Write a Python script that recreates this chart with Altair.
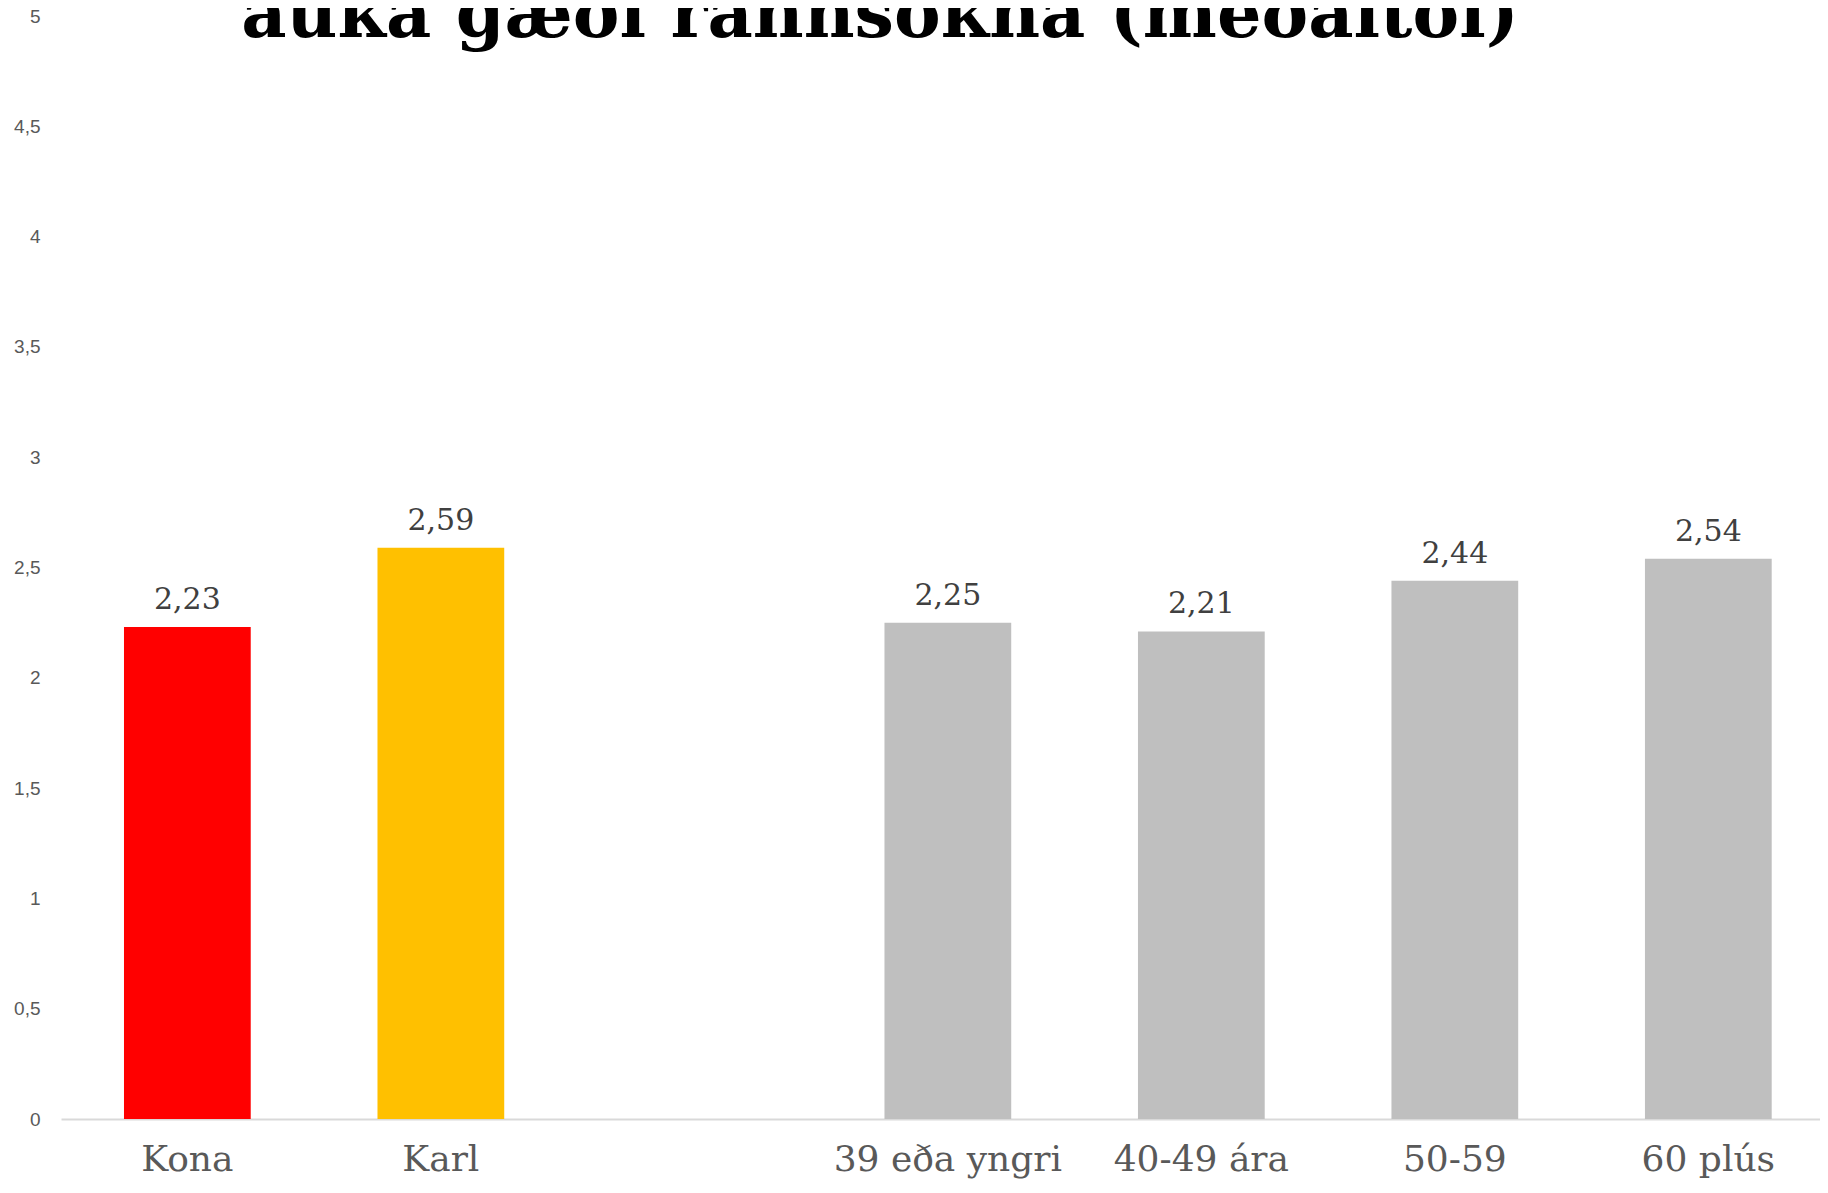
import altair as alt
import pandas as pd

# Categories on the x axis (" " is the empty gap slot between gender and age groups)
categories = ["Kona", "Karl", " ", "39 eða yngri", "40-49 ára", "50-59", "60 plús"]
bar_categories = ["Kona", "Karl", "39 eða yngri", "40-49 ára", "50-59", "60 plús"]
values = [2.23, 2.59, 2.25, 2.21, 2.44, 2.54]
bar_colors = ["#FF0000", "#FFC000", "#BFBFBF", "#BFBFBF", "#BFBFBF", "#BFBFBF"]
y_ticks = [0, 0.5, 1, 1.5, 2, 2.5, 3, 3.5, 4, 4.5, 5]
title_text = "auka gæði rannsókna (meðaltöl)"

df = pd.DataFrame({"cat": bar_categories, "value": values, "color": bar_colors})
title_df = pd.DataFrame({"t": [title_text]})

x_enc = alt.X(
    "cat:N",
    sort=categories,
    scale=alt.Scale(domain=categories, paddingInner=0.5, paddingOuter=0.2195, align=0.566),
    axis=alt.Axis(
        title=None,
        labelAngle=0,
        ticks=False,
        domainColor="#D9D9D9",
        domainWidth=2,
        labelFont="DejaVu Serif",
        labelFontSize=36,
        labelColor="#595959",
        labelPadding=23,
        labelLimit=0,
    ),
)
y_enc = alt.Y(
    "value:Q",
    scale=alt.Scale(domain=[0, 5], nice=False),
    axis=alt.Axis(
        title=None,
        values=y_ticks,
        grid=False,
        domain=False,
        ticks=False,
        labelFont="Liberation Sans",
        labelFontSize=19,
        labelColor="#595959",
        labelPadding=21,
        labelExpr="replace(toString(datum.value), '.', ',')",
    ),
)

bars = alt.Chart(df).mark_bar().encode(
    x=x_enc,
    y=y_enc,
    color=alt.Color("color:N", scale=None, legend=None),
)

labels = alt.Chart(df).transform_calculate(
    label="replace(format(datum.value, '.2f'), '.', ',')"
).mark_text(
    font="DejaVu Serif",
    fontSize=30,
    color="#404040",
    baseline="alphabetic",
    dy=-18,
).encode(
    x=alt.X("cat:N", sort=categories),
    y=alt.Y("value:Q"),
    text="label:N",
)

# Chart title (its upper part is cut off at the top edge, as in the reference)
title_mark = alt.Chart(title_df).mark_text(
    font="DejaVu Serif",
    fontSize=70,
    fontWeight="bold",
    color="#000000",
    align="center",
    baseline="alphabetic",
).encode(
    x=alt.value(819),
    y=alt.value(21),
    text="t:N",
)

chart = alt.layer(bars, labels, title_mark).properties(
    width=1759,
    height=1103,
    background="#FFFFFF",
    autosize=alt.AutoSizeParams(type="none"),
    padding={"left": 53, "top": 8, "right": 0, "bottom": 61},
).configure_view(stroke=None)

chart.save("out.html", embed_options={"renderer": "svg", "actions": False})
